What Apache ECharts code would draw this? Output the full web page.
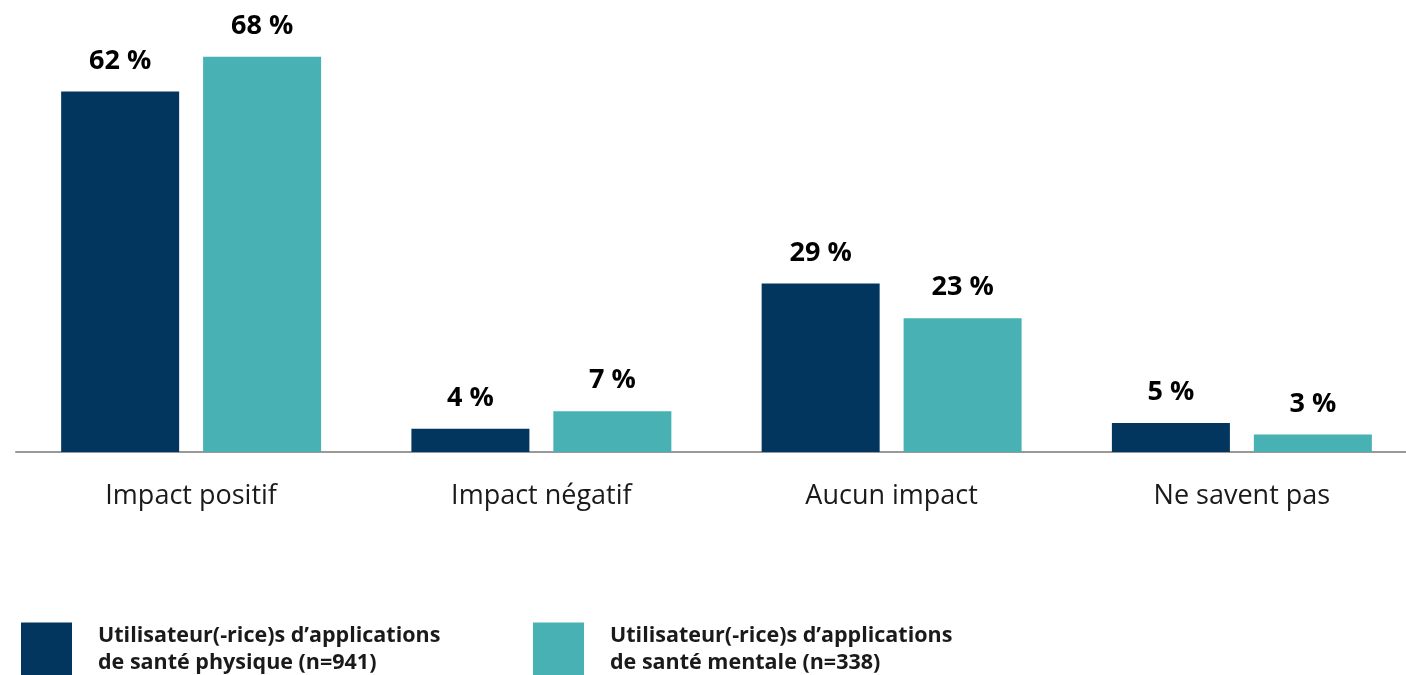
<!DOCTYPE html>
<html>
<head>
<meta charset="utf-8">
<script src="https://cdn.jsdelivr.net/npm/echarts@6/dist/echarts.min.js"></script>
<style>
  html, body { margin: 0; padding: 0; background: #fff; }
  #chart { width: 1406px; height: 675px; }
</style>
</head>
<body>
<div id="chart"></div>
<script>
const categories = ['Impact positif', 'Impact négatif', 'Aucun impact', 'Ne savent pas']
const physique = [62, 4, 29, 5]
const mentale = [68, 7, 23, 3]
const namePhysique = 'Utilisateur(-rice)s d\u2019applications\nde santé physique (n=941)'
const nameMentale = 'Utilisateur(-rice)s d\u2019applications\nde santé mentale (n=338)'

const font = '"Open Sans", "Noto Sans", sans-serif'
const chart = echarts.init(document.getElementById('chart'))

const barLabel = {
  show: true,
  position: 'top',
  distance: 17,
  formatter: '{c} %',
  color: '#000',
  fontFamily: font,
  fontWeight: 'bold',
  fontSize: 27,
}

const legendBase = {
  top: 622,
  padding: 0,
  itemWidth: 51,
  itemHeight: 53,
  itemGap: 0,
  icon: 'rect',
  selectedMode: false,
  textStyle: {
    fontFamily: font,
    fontWeight: 'bold',
    fontSize: 21.5,
    lineHeight: 27,
    color: '#1a1a1a',
    padding: [0, 0, 0, 21],
  },
}

chart.setOption({
  animation: false,
  grid: {
    left: 16,
    width: 1401,
    top: 45,
    height: 407,
    outerBoundsMode: 'none',
  },
  legend: [
    Object.assign({}, legendBase, { left: 21, data: [namePhysique] }),
    Object.assign({}, legendBase, { left: 533, data: [nameMentale] }),
  ],
  xAxis: {
    type: 'category',
    data: categories,
    axisLine: { lineStyle: { color: '#999', width: 2 } },
    axisTick: { show: false },
    axisLabel: {
      margin: 31,
      fontFamily: font,
      fontSize: 27,
      color: '#1a1a1a',
    },
  },
  yAxis: {
    type: 'value',
    min: 0,
    max: 70,
    show: false,
  },
  series: [
    {
      name: namePhysique,
      type: 'bar',
      data: physique,
      barWidth: 118,
      barGap: '20.3%',
      itemStyle: { color: '#03365F' },
      label: barLabel,
    },
    {
      name: nameMentale,
      type: 'bar',
      data: mentale,
      barWidth: 118,
      itemStyle: { color: '#47B1B3' },
      label: barLabel,
    },
  ],
})

window.addEventListener('resize', () => chart.resize())
</script>
</body>
</html>
